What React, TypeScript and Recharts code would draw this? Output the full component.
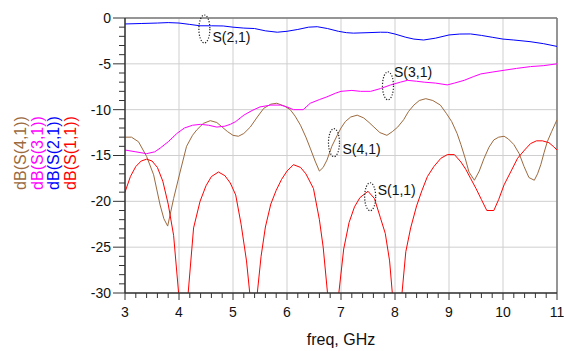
import {
  LineChart, Line, XAxis, YAxis, CartesianGrid, ReferenceLine, ReferenceDot,
} from 'recharts';

// S(1,1) – red, deep nulls run below the -30 dB floor
const s11Freq = [3.0, 3.1, 3.2, 3.3, 3.4, 3.5, 3.6, 3.7, 3.8, 3.9, 4.0, 4.08, 4.17, 4.27, 4.39, 4.5, 4.6, 4.73, 4.85, 4.95,
  5.05, 5.15, 5.25, 5.31, 5.38, 5.45, 5.52, 5.6, 5.7, 5.8, 5.9, 6.0, 6.12, 6.25, 6.35, 6.49, 6.6, 6.67, 6.75, 6.86,
  6.96, 7.05, 7.15, 7.25, 7.35, 7.5, 7.62, 7.73, 7.82, 7.9, 7.95, 8.04, 8.13, 8.2, 8.29, 8.4, 8.5, 8.6, 8.72, 8.85,
  8.97, 9.1, 9.22, 9.31, 9.4, 9.5, 9.6, 9.7, 9.83, 9.92, 10.02, 10.15, 10.27, 10.4, 10.51, 10.62, 10.73, 10.85, 10.93, 11.0];
const s11Db = [-19.0, -17.3, -16.2, -15.6, -15.4, -15.6, -16.3, -17.8, -20.3, -23.7, -30.5, -45, -30, -22.9, -20.0, -18.3, -17.3, -16.8, -17.2, -18.0,
  -19.3, -22.5, -26.5, -30, -45, -30, -26, -22.8, -20.3, -18.8, -17.6, -16.7, -16.0, -16.3, -17.0, -18.6, -22.0, -25, -30, -45,
  -30, -25.2, -22.3, -20.6, -19.6, -18.9, -19.7, -21.8, -23.5, -26.5, -30, -45, -30, -25.5, -22.9, -20.5, -18.8, -17.3, -16.2, -15.3,
  -14.9, -14.9, -15.7, -16.5, -17.5, -18.6, -19.8, -21.0, -21.0, -19.8, -18.2, -16.7, -15.3, -14.4, -13.7, -13.4, -13.4, -13.6, -14.0, -14.4];

// S(2,1) – blue
const s21Freq = [3.0, 3.3, 3.6, 3.8, 4.0, 4.2, 4.39, 4.6, 4.82, 5.0, 5.2, 5.4, 5.6, 5.82, 6.0, 6.2, 6.4, 6.56, 6.75, 6.95,
  7.1, 7.23, 7.5, 7.73, 7.86, 8.0, 8.2, 8.35, 8.53, 8.75, 9.0, 9.2, 9.4, 9.6, 9.8, 10.0, 10.2, 10.5, 10.75, 11.0];
const s21Db = [-0.65, -0.6, -0.55, -0.5, -0.55, -0.7, -0.85, -0.85, -0.87, -1.0, -1.1, -1.15, -1.4, -1.55, -1.45, -1.25, -1.0, -0.95, -1.15, -1.45,
  -1.6, -1.65, -1.6, -1.55, -1.56, -1.75, -2.1, -2.3, -2.4, -2.2, -1.85, -1.75, -1.74, -1.9, -2.1, -2.3, -2.4, -2.58, -2.8, -3.1];

// S(3,1) – magenta
const s31Freq = [3.0, 3.2, 3.4, 3.55, 3.65, 3.8, 3.96, 4.1, 4.25, 4.4, 4.55, 4.7, 4.85, 4.95, 5.05, 5.2, 5.35, 5.5, 5.7, 5.88,
  6.0, 6.12, 6.3, 6.43, 6.6, 6.74, 6.9, 7.0, 7.2, 7.36, 7.55, 7.73, 7.92, 8.1, 8.23, 8.4, 8.54, 8.75, 8.97, 9.1,
  9.28, 9.45, 9.59, 9.8, 10.02, 10.25, 10.51, 10.75, 11.0];
const s31Db = [-14.4, -14.6, -14.8, -14.6, -14.2, -13.5, -12.6, -12.0, -11.7, -11.6, -11.7, -11.9, -11.8, -11.6, -11.3, -10.6, -10.1, -9.7, -9.5, -9.5,
  -9.7, -10.0, -10.0, -9.3, -8.9, -8.6, -8.2, -8.0, -7.9, -8.0, -8.0, -7.7, -7.3, -7.0, -6.8, -6.9, -7.0, -7.1, -7.3, -7.1,
  -6.8, -6.4, -6.1, -5.9, -5.7, -5.5, -5.3, -5.2, -5.0];

// S(4,1) – brown
const s41Freq = [3.0, 3.12, 3.25, 3.4, 3.53, 3.65, 3.72, 3.79, 3.9, 4.02, 4.14, 4.25, 4.33, 4.45, 4.58, 4.7, 4.8, 4.9, 5.0, 5.1,
  5.2, 5.32, 5.45, 5.57, 5.7, 5.81, 5.95, 6.06, 6.15, 6.25, 6.35, 6.43, 6.52, 6.6, 6.67, 6.74, 6.83, 6.93, 7.0, 7.08,
  7.18, 7.3, 7.42, 7.52, 7.61, 7.72, 7.85, 7.95, 8.05, 8.16, 8.25, 8.35, 8.45, 8.57, 8.7, 8.84, 8.95, 9.05, 9.15, 9.22,
  9.3, 9.37, 9.47, 9.56, 9.65, 9.74, 9.83, 9.92, 10.02, 10.1, 10.2, 10.3, 10.39, 10.48, 10.58, 10.64, 10.7, 10.76, 10.82, 10.9, 11.0];
const s41Db = [-13.0, -13.0, -13.5, -15.1, -17.1, -20.4, -21.9, -22.7, -19.7, -16.8, -14.0, -12.8, -12.2, -11.5, -11.2, -11.4, -11.9, -12.4, -12.8, -12.9,
  -12.6, -11.9, -10.8, -9.85, -9.4, -9.3, -9.6, -10.0, -10.7, -11.7, -13.0, -14.2, -15.6, -16.7, -16.3, -15.5, -14.0, -12.8, -12.0, -11.3,
  -10.8, -10.6, -10.9, -11.4, -11.9, -12.5, -12.8, -12.4, -11.9, -11.1, -10.2, -9.5, -9.0, -8.8, -9.0, -9.5, -10.4, -11.3, -12.6, -13.8,
  -15.3, -16.8, -17.7, -16.7, -15.3, -14.1, -13.3, -13.0, -12.9, -13.2, -13.8, -14.8, -16.2, -17.4, -17.7, -17.0, -16.0, -14.7, -13.5, -12.4, -11.1];

// axis labels
const FREQ_LABELS = [3, 4, 5, 6, 7, 8, 9, 10, 11];
const DB_LABELS = [0, -5, -10, -15, -20, -25, -30];

// marker annotations (trace name, freq, dB)
const NOTE_NAMES = ['S(2,1)', 'S(3,1)', 'S(4,1)', 'S(1,1)'];
const NOTE_FREQ = [4.47, 7.87, 6.87, 7.54];
const NOTE_DB = [-1.2, -7.4, -13.6, -19.5];

const zip = (f: number[], v: number[]) => f.map((x, i) => ({ f: x, db: v[i] }));
const S11 = zip(s11Freq, s11Db);
const S21 = zip(s21Freq, s21Db);
const S31 = zip(s31Freq, s31Db);
const S41 = zip(s41Freq, s41Db);

const FREQ_TICKS = Array.from({ length: 41 }, (_, i) => +(3 + i * 0.2).toFixed(1));
const DB_TICKS = Array.from({ length: 31 }, (_, i) => -i);

const FONT = 'Arial, "Liberation Sans", sans-serif';
const AXIS = '#333';

const XTick = ({ x, y, payload }: any) => {
  const major = Number.isInteger(payload.value);
  return (
    <g>
      <line x1={x} x2={x} y1={y} y2={y + (major ? 7 : 5)} stroke={AXIS} />
      {major && (
        <text x={x} y={y + 24} textAnchor="middle" fontSize={14} fontFamily={FONT} fill="#111">
          {payload.value}
        </text>
      )}
    </g>
  );
};

const YTick = ({ x, y, payload }: any) => {
  const major = payload.value % 5 === 0;
  return (
    <g>
      <line x1={x - (major ? 12 : 6)} x2={x} y1={y} y2={y} stroke={AXIS} />
      {major && (
        <text x={x - 14} y={y} dy="0.35em" textAnchor="end" fontSize={14} fontFamily={FONT} fill="#111">
          {payload.value}
        </text>
      )}
    </g>
  );
};

// stacked, rotated trace names on the left
const YLabel = () => {
  const rows = [
    { t: 'dB(S(4,1))', c: '#9c6a3e', x: 26 },
    { t: 'dB(S(3,1))', c: '#ff00ff', x: 42.5 },
    { t: 'dB(S(2,1))', c: '#0000ff', x: 59 },
    { t: 'dB(S(1,1))', c: '#ff0000', x: 75.5 },
  ];
  return (
    <g>
      {rows.map((r) => (
        <text key={r.t} x={r.x} y={153} transform={`rotate(-90 ${r.x} 153)`} textAnchor="middle"
              fontSize={16} fontFamily={FONT} fill={r.c}>
          {r.t}
        </text>
      ))}
    </g>
  );
};

const noteText = [
  { dx: 8, dy: 13 },
  { dx: 6, dy: -9 },
  { dx: 8.5, dy: 11 },
  { dx: 7.5, dy: -2 },
];

const Note = (i: number) => (props: any) => {
  const { cx, cy } = props;
  return (
    <g>
      <ellipse cx={cx} cy={cy} rx={5.5} ry={14} fill="none" stroke="#222"
               strokeWidth={1.2} strokeDasharray="1.2 1.6" />
      <text x={cx + noteText[i].dx} y={cy + noteText[i].dy} fontSize={14} fontFamily={FONT} fill="#111">
        {NOTE_NAMES[i]}
      </text>
    </g>
  );
};

export default function App() {
  return (
    <div style={{ position: 'fixed', left: 0, top: 0, width: 564, height: 351, background: '#fff', fontFamily: FONT }}>
      <LineChart width={564} height={351} margin={{ top: 18, right: 7, bottom: 0, left: 0 }}>
        <CartesianGrid stroke="#cfcfcf" horizontalValues={DB_LABELS} verticalValues={FREQ_LABELS} />
        <XAxis dataKey="f" type="number" domain={[3, 11]} allowDataOverflow ticks={FREQ_TICKS} interval={0}
               height={58} tick={<XTick />} tickLine={false} tickSize={0} tickMargin={0}
               axisLine={{ stroke: AXIS, strokeWidth: 1.5 }}
               label={{ value: 'freq, GHz', position: 'insideBottom', offset: 6, fontSize: 16, fill: '#111', fontFamily: FONT }} />
        <YAxis type="number" domain={[-30, 0]} allowDataOverflow ticks={DB_TICKS} interval={0}
               width={125} tick={<YTick />} tickLine={false} tickSize={0} tickMargin={0}
               axisLine={{ stroke: AXIS, strokeWidth: 1.5 }}
               label={{ content: () => <YLabel /> }} />
        <ReferenceLine y={0} stroke="#7a7a7a" strokeWidth={1.5} />
        <ReferenceLine x={11} stroke="#7a7a7a" strokeWidth={1.5} />
        <Line data={S41} dataKey="db" type="linear" stroke="#9c6a3e" strokeWidth={1} dot={false} isAnimationActive={false} />
        <Line data={S31} dataKey="db" type="linear" stroke="#ff00ff" strokeWidth={1} dot={false} isAnimationActive={false} />
        <Line data={S21} dataKey="db" type="linear" stroke="#0000ff" strokeWidth={1} dot={false} isAnimationActive={false} />
        <Line data={S11} dataKey="db" type="linear" stroke="#ff0000" strokeWidth={1} dot={false} isAnimationActive={false} />
        {NOTE_NAMES.map((n, i) => (
          <ReferenceDot key={n} x={NOTE_FREQ[i]} y={NOTE_DB[i]} r={0} shape={Note(i)} />
        ))}
      </LineChart>
    </div>
  );
}
